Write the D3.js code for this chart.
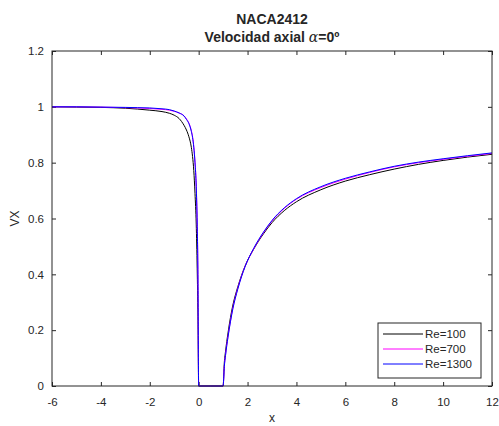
<!DOCTYPE html>
<html>
<head>
<meta charset="utf-8">
<script src="https://cdn.jsdelivr.net/npm/d3@7"></script>
<style>
  body { margin: 0; background: #fff; }
  svg text { font-family: "Liberation Sans", Arial, sans-serif; fill: #262626; }
</style>
</head>
<body>
<div id="chart"></div>
<script>
// Datos (x a lo largo de la cuerda y estela)
const xs = [-6, -5, -4, -3, -2.5, -2, -1.5, -1.2, -1, -0.8, -0.6, -0.5, -0.4, -0.3, -0.25, -0.2, -0.15, -0.1, -0.06, -0.03, 0,
  0.5, 1, 1.05, 1.1, 1.2, 1.3, 1.4, 1.6, 1.9, 2.25, 2.65, 3, 3.5, 4, 5, 6, 7, 8, 9, 10, 11, 12];

const vxRe100 = [1.0, 0.999, 0.998, 0.995, 0.992, 0.988, 0.983, 0.977, 0.970, 0.958, 0.934, 0.917, 0.893, 0.855, 0.822, 0.772, 0.69, 0.58, 0.42, 0.25, 0,
  0, 0, 0.085, 0.125, 0.19, 0.245, 0.29, 0.355, 0.43, 0.49, 0.545, 0.585, 0.628, 0.66, 0.703, 0.734, 0.757, 0.777, 0.794, 0.808, 0.82, 0.83];

const vxRe700 = [1.0, 1.0, 0.999, 0.997, 0.996, 0.994, 0.991, 0.988, 0.984, 0.978, 0.968, 0.957, 0.942, 0.915, 0.893, 0.858, 0.803, 0.72, 0.585, 0.40, 0,
  0, 0, 0.073, 0.113, 0.178, 0.233, 0.28, 0.35, 0.429, 0.491, 0.549, 0.591, 0.636, 0.669, 0.711, 0.741, 0.765, 0.785, 0.80, 0.812, 0.823, 0.833];

const vxRe1300 = [1.0, 1.0, 0.999, 0.998, 0.997, 0.996, 0.993, 0.990, 0.985, 0.978, 0.967, 0.955, 0.94, 0.912, 0.89, 0.855, 0.80, 0.715, 0.58, 0.40, 0,
  0, 0, 0.07, 0.11, 0.175, 0.23, 0.277, 0.347, 0.428, 0.493, 0.551, 0.593, 0.638, 0.671, 0.714, 0.744, 0.767, 0.787, 0.802, 0.814, 0.825, 0.835];

const seriesNames = ['Re=100', 'Re=700', 'Re=1300'];
const seriesColors = ['#000000', '#ff00ff', '#0000ff'];
const xTicks = [-6, -4, -2, 0, 2, 4, 6, 8, 10, 12];
const yTicks = [0, 0.2, 0.4, 0.6, 0.8, 1, 1.2];

const width = 499, height = 426;
const margin = { top: 51, right: 7, bottom: 40, left: 52 };
const innerW = width - margin.left - margin.right;
const innerH = height - margin.top - margin.bottom;
const axisColor = '#262626';

const svg = d3.select('#chart').append('svg')
  .attr('width', width)
  .attr('height', height);

const x = d3.scaleLinear().domain([-6, 12]).range([margin.left, margin.left + innerW]);
const y = d3.scaleLinear().domain([0, 1.2]).range([margin.top + innerH, margin.top]);

// Ejes (ticks hacia dentro, como en MATLAB)
const fmt = d => String(d);
const gx = svg.append('g')
  .attr('transform', `translate(0,${margin.top + innerH})`)
  .call(d3.axisBottom(x).tickValues(xTicks).tickFormat(fmt).tickSizeInner(-4).tickSizeOuter(0).tickPadding(12));
const gxTop = svg.append('g')
  .attr('transform', `translate(0,${margin.top})`)
  .call(d3.axisTop(x).tickValues(xTicks).tickFormat('').tickSizeInner(-4).tickSizeOuter(0));
const gy = svg.append('g')
  .attr('transform', `translate(${margin.left},0)`)
  .call(d3.axisLeft(y).tickValues(yTicks).tickFormat(fmt).tickSizeInner(-4).tickSizeOuter(0).tickPadding(8));
const gyRight = svg.append('g')
  .attr('transform', `translate(${margin.left + innerW},0)`)
  .call(d3.axisRight(y).tickValues(yTicks).tickFormat('').tickSizeInner(-4).tickSizeOuter(0));

[gx, gxTop, gy, gyRight].forEach(g => {
  g.select('.domain').remove();
  g.selectAll('.tick line').attr('stroke', axisColor);
  g.selectAll('.tick text').attr('font-size', 11.5).attr('fill', axisColor)
    .style('font-family', '"Liberation Sans", Arial, sans-serif');
});

// Curvas
const line = d3.line()
  .x((d, i) => x(xs[i]))
  .y(d => y(d))
  .curve(d3.curveMonotoneX);

[vxRe100, vxRe700, vxRe1300].forEach((vals, k) => {
  svg.append('path')
    .datum(vals)
    .attr('fill', 'none')
    .attr('stroke', seriesColors[k])
    .attr('stroke-width', 1)
    .attr('d', line);
});

// Caja
svg.append('rect')
  .attr('x', margin.left).attr('y', margin.top)
  .attr('width', innerW).attr('height', innerH)
  .attr('fill', 'none').attr('stroke', axisColor).attr('stroke-width', 1);

// Titulo
const title = svg.append('text')
  .attr('x', margin.left + innerW / 2)
  .attr('text-anchor', 'middle')
  .attr('font-weight', 'bold')
  .attr('font-size', 14);
title.append('tspan').attr('x', margin.left + innerW / 2).attr('y', 24).text('NACA2412');
const t2 = title.append('tspan').attr('x', margin.left + innerW / 2).attr('y', 42);
t2.append('tspan').text('Velocidad axial ');
t2.append('tspan').attr('font-family', '"DejaVu Serif", "Liberation Serif", serif')
  .attr('font-style', 'italic').attr('font-weight', 'normal').text('α');
t2.append('tspan').text('=0º');

// Etiquetas de ejes
svg.append('text')
  .attr('x', margin.left + innerW / 2).attr('y', 422)
  .attr('text-anchor', 'middle').attr('font-size', 12)
  .text('x');
svg.append('text')
  .attr('transform', `translate(19,${margin.top + innerH / 2}) rotate(-90)`)
  .attr('text-anchor', 'middle').attr('font-size', 12)
  .text('VX');

// Leyenda
const lg = svg.append('g').attr('transform', 'translate(378,323)');
lg.append('rect')
  .attr('width', 103).attr('height', 55)
  .attr('fill', '#fff').attr('stroke', axisColor).attr('stroke-width', 1);
seriesNames.forEach((name, i) => {
  const yy = 11 + i * 15;
  lg.append('line')
    .attr('x1', 5).attr('x2', 45).attr('y1', yy).attr('y2', yy)
    .attr('stroke', seriesColors[i]).attr('stroke-width', 1);
  lg.append('text')
    .attr('x', 47).attr('y', yy).attr('dy', '0.35em')
    .attr('font-size', 11.5)
    .text(name);
});
</script>
</body>
</html>
